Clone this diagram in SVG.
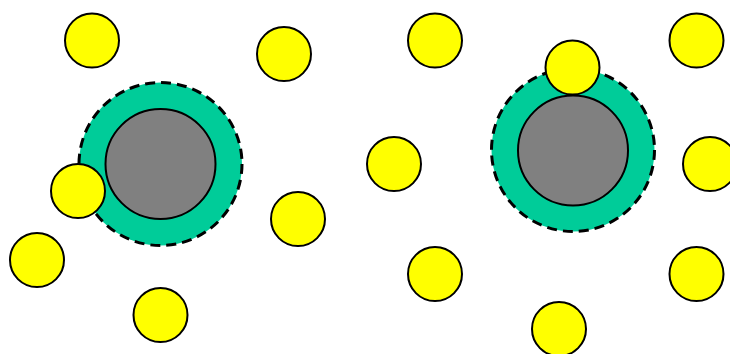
<svg xmlns="http://www.w3.org/2000/svg" width="730" height="354" viewBox="0 0 730 354">
<style>
.y{fill:#ffff00;stroke:#000;stroke-width:2}
.g{fill:#00cc99;stroke:#000;stroke-width:3;stroke-dasharray:10,6}
.c{fill:#808080;stroke:#000;stroke-width:2}
</style>
<rect width="730" height="354" fill="#fff"/>
<g id="left-cell">
<circle class="g" cx="160.5" cy="164" r="81.5"/>
<circle class="c" cx="160.5" cy="164" r="55"/>
</g>
<g id="right-cell">
<circle class="g" cx="573" cy="150" r="81.5"/>
<circle class="c" cx="573" cy="150.5" r="55"/>
</g>
<g id="l1"><circle class="y" cx="92" cy="40.5" r="27"/></g>
<g id="l2"><circle class="y" cx="284" cy="54" r="27"/></g>
<g id="l3"><circle class="y" cx="78" cy="191" r="27"/></g>
<g id="l4"><circle class="y" cx="298" cy="219" r="27"/></g>
<g id="l5"><circle class="y" cx="37" cy="260" r="27"/></g>
<g id="l6"><circle class="y" cx="160.5" cy="315" r="27"/></g>
<g id="r1"><circle class="y" cx="435" cy="40.5" r="27"/></g>
<g id="r2"><circle class="y" cx="696.5" cy="40.5" r="27"/></g>
<g id="r3"><circle class="y" cx="572.5" cy="67.5" r="27"/></g>
<g id="r4"><circle class="y" cx="394" cy="164" r="27"/></g>
<g id="r5"><circle class="y" cx="710" cy="164" r="27"/></g>
<g id="r6"><circle class="y" cx="435" cy="274" r="27"/></g>
<g id="r7"><circle class="y" cx="696.5" cy="274" r="27"/></g>
<g id="r8"><circle class="y" cx="559" cy="329" r="27"/></g>
<g id="connectors"></g>
</svg>
